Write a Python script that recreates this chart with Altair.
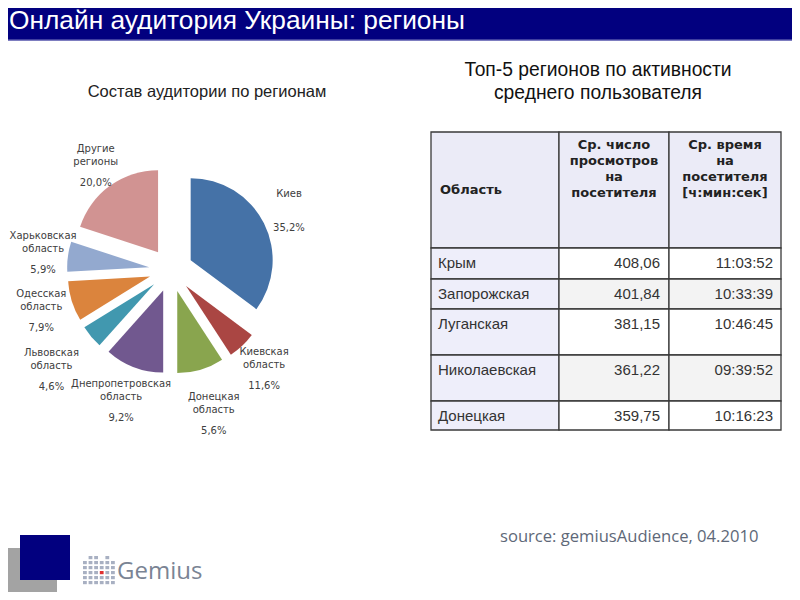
import math
import altair as alt
import pandas as pd

# ---------------- data ----------------
title = "Онлайн аудитория Украины: регионы"
pie_title = "Состав аудитории по регионам"
table_title = ["Топ-5 регионов по активности", "среднего пользователя"]
source_text = "source: gemiusAudience, 04.2010"

# pie: slices clockwise from 12 o'clock, as drawn
pie_regions = ["Киев", "Киевская область", "Донецкая область", "Днепропетровская область",
               "Львовская область", "Одесская область", "Харьковская область", "Другие регионы"]
pie_label_names = ["Киев", "Киевская\nобласть", "Донецкая\nобласть", "Днепропетровская\nобласть",
                   "Львовская\nобласть", "Одесская\nобласть", "Харьковская\nобласть", "Другие\nрегионы"]
pie_label_pct = [35.2, 11.6, 5.6, 9.2, 4.6, 7.9, 5.9, 20.0]      # printed labels
pie_slice_share = [35.2, 5.6, 9.2, 11.6, 4.6, 7.9, 5.9, 20.0]    # drawn slice sizes
pie_colors = ["#4572A7", "#AA4643", "#89A54E", "#71588F", "#4198AF", "#DB843D", "#93A9CF", "#D19392"]

# table
table_header = ["Область", "Ср. число\nпросмотров\nна\nпосетителя", "Ср. время\nна\nпосетителя\n[ч:мин:сек]"]
table_regions = ["Крым", "Запорожская", "Луганская", "Николаевская", "Донецкая"]
avg_views = [408.06, 401.84, 381.15, 361.22, 359.75]
avg_time = ["11:03:52", "10:33:39", "10:46:45", "09:39:52", "10:16:23"]

# ---------------- layout (page pixels) ----------------
W, H = 784, 584
XS = alt.Scale(domain=[8, 8 + W], range=[0, W])
YS = alt.Scale(domain=[8, 8 + H], range=[0, H])
PIE_CX, PIE_CY, PIE_R, EXPLODE = 171, 270, 82, 22
LABEL_DIST = [132, 136, 150, 140, 156, 136, 129, 128]   # label distance from pie centre, per slice
COL_EDGES = [431, 559, 669, 781]
ROW_EDGES = [132, 248, 279, 309, 355, 401, 430]
NAVY = "#02007F"


def xq(f):
    return alt.X(f"{f}:Q", scale=XS, axis=None)


def yq(f):
    return alt.Y(f"{f}:Q", scale=YS, axis=None)


def rect_layer(df, color, **kw):
    return alt.Chart(df).mark_rect(color=color, **kw).encode(
        x=xq("x"), x2="x2", y=yq("y"), y2="y2")


def text_layer(df, **kw):
    return alt.Chart(df).mark_text(**kw).encode(x=xq("x"), y=yq("y"), text="t:N")


layers = []

# title bar
layers.append(rect_layer(pd.DataFrame([{"x": 0, "x2": 800, "y": 0, "y2": 40}]), NAVY))
layers.append(rect_layer(pd.DataFrame([{"x": 0, "x2": 800, "y": 39.5, "y2": 41}]), "#7d7dc0"))
layers.append(text_layer(pd.DataFrame([{"x": 9, "y": 21, "t": title}]),
                         align="left", baseline="middle", font="Liberation Sans",
                         fontSize=26.3, color="white"))

# subtitles
layers.append(text_layer(pd.DataFrame([{"x": 207, "y": 92, "t": pie_title}]),
                         align="center", baseline="middle", font="Liberation Sans",
                         fontSize=16.5, color="#222222"))
layers.append(text_layer(pd.DataFrame([{"x": 598, "y": 70, "t": table_title[0]},
                                       {"x": 598, "y": 93, "t": table_title[1]}]),
                         align="center", baseline="middle", font="Liberation Sans",
                         fontSize=19.3, color="#111111"))

# pie
rows = []
cum = 0.0
for reg, lab, pct, s, ld in zip(pie_regions, pie_label_names, pie_label_pct, pie_slice_share, LABEL_DIST):
    t0, t1 = cum, cum + s
    cum = t1
    mid = math.radians((t0 + t1) / 2 * 3.6)
    rows.append({
        "region": reg, "t0": t0, "t1": t1,
        "cx": PIE_CX + EXPLODE * math.sin(mid), "cy": PIE_CY - EXPLODE * math.cos(mid),
        "lx": PIE_CX + ld * math.sin(mid), "ly": PIE_CY - ld * math.cos(mid),
        "name": lab, "pct": f"{pct:.1f}".replace(".", ",") + "%",
    })
pie_df = pd.DataFrame(rows)
pie_df["ny"] = pie_df["ly"] - 22
pie_df["py"] = pie_df["ly"] + 17

arcs = alt.Chart(pie_df).mark_arc(radius=PIE_R).encode(
    theta=alt.Theta("t0:Q", scale=alt.Scale(domain=[0, 100], range=[0, 2 * math.pi])),
    theta2="t1:Q",
    x=xq("cx"), y=yq("cy"),
    color=alt.Color("region:N", scale=alt.Scale(domain=pie_regions, range=pie_colors), legend=None),
)
layers.append(arcs)
layers.append(alt.Chart(pie_df).mark_text(
    align="center", baseline="top", lineBreak="\n", lineHeight=13,
    font="DejaVu Sans", fontSize=10, color="#404040").encode(
    x=xq("lx"), y=yq("ny"), text="name:N"))
layers.append(alt.Chart(pie_df).mark_text(
    align="center", baseline="middle",
    font="DejaVu Sans", fontSize=10, color="#404040").encode(
    x=xq("lx"), y=yq("py"), text="pct:N"))

# table cells
cells = []
for r in range(len(ROW_EDGES) - 1):
    for c in range(3):
        if r == 0:
            fill = "#EBEBF7"
        elif c == 0:
            fill = "#EEEEFA"
        else:
            fill = "#F3F3F3" if r in (2, 4) else "#FFFFFF"
        cells.append({"x": COL_EDGES[c], "x2": COL_EDGES[c + 1],
                      "y": ROW_EDGES[r], "y2": ROW_EDGES[r + 1], "fill": fill})
cells_df = pd.DataFrame(cells)
layers.append(alt.Chart(cells_df).mark_rect(stroke="#3a3a3a", strokeWidth=1.3).encode(
    x=xq("x"), x2="x2", y=yq("y"), y2="y2",
    fill=alt.Fill("fill:N", scale=None)))

# table header text
layers.append(text_layer(pd.DataFrame([{"x": COL_EDGES[0] + 9, "y": 190, "t": table_header[0]}]),
                         align="left", baseline="middle", font="DejaVu Sans",
                         fontSize=13, fontWeight="bold", color="#222222"))
hdr = pd.DataFrame([
    {"x": (COL_EDGES[1] + COL_EDGES[2]) / 2, "y": 139, "t": table_header[1]},
    {"x": (COL_EDGES[2] + COL_EDGES[3]) / 2, "y": 139, "t": table_header[2]},
])
layers.append(text_layer(hdr, align="center", baseline="top", lineBreak="\n", lineHeight=16,
                         font="DejaVu Sans", fontSize=13, fontWeight="bold", color="#222222"))

# table body text
body_l, body_v, body_t = [], [], []
for i, (reg, v, t) in enumerate(zip(table_regions, avg_views, avg_time)):
    y = ROW_EDGES[i + 1] + 15
    body_l.append({"x": COL_EDGES[0] + 7, "y": y, "t": reg})
    body_v.append({"x": COL_EDGES[2] - 9, "y": y, "t": f"{v:.2f}".replace(".", ",")})
    body_t.append({"x": COL_EDGES[3] - 8, "y": y, "t": t})
layers.append(text_layer(pd.DataFrame(body_l), align="left", baseline="middle",
                         font="Liberation Sans", fontSize=15, color="#333333"))
layers.append(text_layer(pd.DataFrame(body_v + body_t), align="right", baseline="middle",
                         font="Liberation Sans", fontSize=15, color="#333333"))

# source
layers.append(text_layer(pd.DataFrame([{"x": 500, "y": 537, "t": source_text}]),
                         align="left", baseline="middle", font="Open Sans",
                         fontSize=16.6, color="#5E6878"))

# logo
layers.append(rect_layer(pd.DataFrame([{"x": 7, "x2": 57, "y": 548, "y2": 593}]), "#A3A3A3"))
layers.append(rect_layer(pd.DataFrame([{"x": 20, "x2": 70, "y": 535, "y2": 580}]), NAVY))
grid = []
for ci, top in enumerate([1, 0, 0, 1, 0, 1]):
    for ri in range(top, 6):
        gx = 83 + ci * 5.6
        gy = 556 + ri * 5
        grid.append({"x": gx, "x2": gx + 3.8, "y": gy, "y2": gy + 3.2,
                     "fill": "#E03030" if (ci == 3 and ri == 3) else "#A8B0C2"})
layers.append(alt.Chart(pd.DataFrame(grid)).mark_rect().encode(
    x=xq("x"), x2="x2", y=yq("y"), y2="y2", fill=alt.Fill("fill:N", scale=None)))
layers.append(text_layer(pd.DataFrame([{"x": 117, "y": 572, "t": "Gemius"}]),
                         align="left", baseline="middle", font="Open Sans",
                         fontSize=24, color="#7A8494"))

chart = alt.layer(*layers).properties(
    width=W, height=H, padding=0, autosize=alt.AutoSizeParams(type="none")
).configure_view(stroke=None)

chart.save("out.html", embed_options={"renderer": "svg", "actions": False})
